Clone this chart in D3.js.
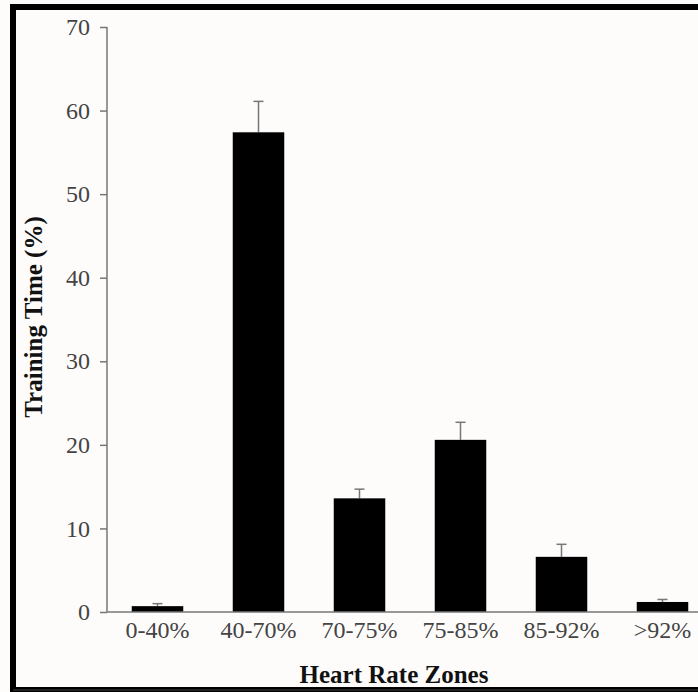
<!DOCTYPE html>
<html>
<head>
<meta charset="utf-8">
<script src="https://cdn.jsdelivr.net/npm/d3@7"></script>
<style>
  html, body { margin: 0; padding: 0; background: #fdfcfb; }
  svg { display: block; }
  text { font-family: "Liberation Serif", "Times New Roman", serif; }
</style>
</head>
<body>
<div id="chart-container"></div>
<script>
const zones = ["0-40%", "40-70%", "70-75%", "75-85%", "85-92%", ">92%"];
const meanTime = [0.7, 57.4, 13.6, 20.6, 6.6, 1.2];
const errTop = [1.0, 61.1, 14.7, 22.7, 8.1, 1.5];
const yTicks = [0, 10, 20, 30, 40, 50, 60, 70];

const svgWidth = 698;
const svgHeight = 692;
const serif = "'Liberation Serif', 'Times New Roman', serif";

const svg = d3.select("#chart-container")
    .append("svg")
    .attr("width", svgWidth)
    .attr("height", svgHeight);

// frame
svg.append("rect")
    .attr("x", 13)
    .attr("y", 7)
    .attr("width", 720)
    .attr("height", 683)
    .attr("fill", "#fdfcfb")
    .attr("stroke", "#000")
    .attr("stroke-width", 6);
svg.append("line")
    .attr("x1", 13).attr("x2", 698)
    .attr("y1", 690).attr("y2", 690)
    .attr("stroke", "#222").attr("stroke-width", 2);

const axisX = 107;

const scaleX = d3.scaleBand()
    .domain(zones)
    .range([axisX, axisX + 6 * 101])
    .paddingInner(0.49)
    .paddingOuter(0.245);

const scaleY = d3.scaleLinear()
    .domain([0, 70])
    .range([612, 27]);

const data = zones.map((z, i) => ({ zone: z, value: meanTime[i], top: errTop[i] }));

// error bars
const err = svg.append("g")
    .attr("stroke", "#777")
    .attr("stroke-width", 1.5);
err.selectAll(".stem")
    .data(data)
    .enter()
    .append("line")
    .attr("x1", d => scaleX(d.zone) + scaleX.bandwidth() / 2)
    .attr("x2", d => scaleX(d.zone) + scaleX.bandwidth() / 2)
    .attr("y1", d => scaleY(d.value))
    .attr("y2", d => scaleY(d.top));
err.selectAll(".cap")
    .data(data)
    .enter()
    .append("line")
    .attr("x1", d => scaleX(d.zone) + scaleX.bandwidth() / 2 - 5)
    .attr("x2", d => scaleX(d.zone) + scaleX.bandwidth() / 2 + 5)
    .attr("y1", d => scaleY(d.top))
    .attr("y2", d => scaleY(d.top));

svg.selectAll(".bar")
    .data(data)
    .enter()
    .append("rect")
    .attr("class", "bar")
    .attr("x", d => scaleX(d.zone))
    .attr("y", d => scaleY(d.value))
    .attr("width", scaleX.bandwidth())
    .attr("height", d => scaleY(0) - scaleY(d.value))
    .attr("fill", "#000");

const yAxis = svg.append("g")
    .attr("transform", `translate(${axisX},0)`)
    .call(d3.axisLeft(scaleY).tickValues(yTicks).tickSize(7).tickPadding(10));

const xAxis = svg.append("g")
    .attr("transform", `translate(0,${scaleY(0)})`)
    .call(d3.axisBottom(scaleX).tickSize(0).tickPadding(9));

[yAxis, xAxis].forEach(function(ax) {
    ax.attr("font-family", serif).attr("font-size", 24);
    ax.select(".domain").attr("stroke", "#777").attr("stroke-width", 1.5);
    ax.selectAll(".tick line").attr("stroke", "#777").attr("stroke-width", 1.5);
    ax.selectAll(".tick text")
        .attr("fill", "#444")
        .style("font-family", serif)
        .style("font-size", "24px");
});
yAxis.select(".domain").attr("d", `M-0,${scaleY(70)}V${scaleY(0)}`);
xAxis.select(".domain").attr("d", `M${axisX},0H${svgWidth}`);

svg.append("text")
    .attr("x", 394)
    .attr("y", 683)
    .attr("text-anchor", "middle")
    .style("font-family", serif)
    .style("font-size", "25px")
    .attr("font-weight", "bold")
    .attr("fill", "#111")
    .text("Heart Rate Zones");

svg.append("text")
    .attr("transform", "rotate(-90)")
    .attr("x", -317)
    .attr("y", 42)
    .attr("text-anchor", "middle")
    .style("font-family", serif)
    .style("font-size", "25px")
    .attr("font-weight", "bold")
    .attr("fill", "#111")
    .text("Training Time (%)");
</script>
</body>
</html>
